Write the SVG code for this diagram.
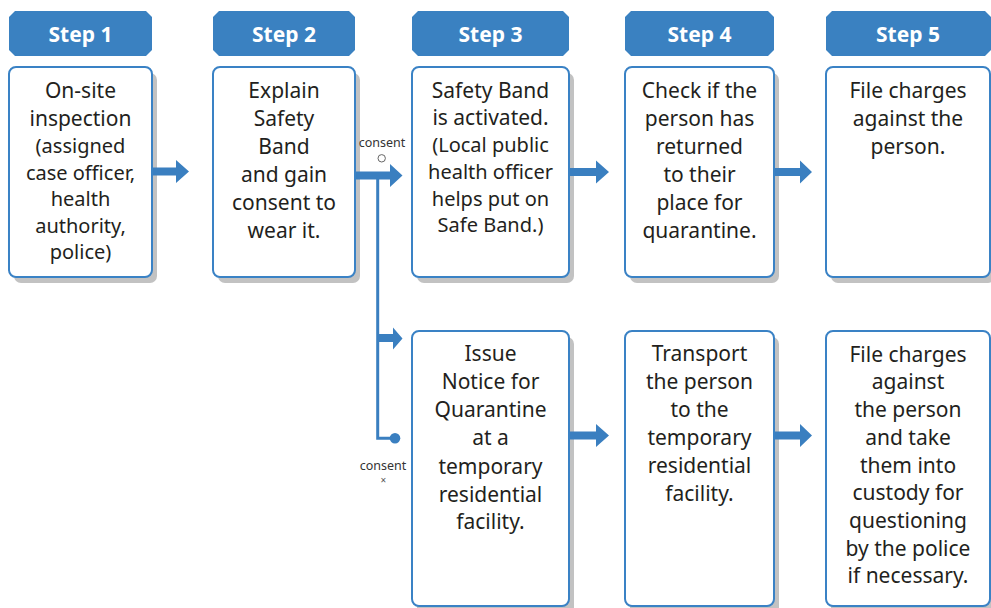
<svg xmlns="http://www.w3.org/2000/svg" width="991" height="608" viewBox="0 0 991 608">
<style>
.hdr{fill:#3a81c1}
.hdrt{font-family:"Noto Sans","Open Sans",sans-serif;font-weight:bold;font-size:21px;fill:#fff;text-anchor:middle}
.box{fill:#fff;stroke:#3a82c5;stroke-width:2}
.sh{fill:#c2c2c2}
.t{font-family:"Noto Sans","Open Sans",sans-serif;font-size:21px;fill:#231f20;text-anchor:middle}
.s{font-size:20px}
.arr{fill:#3a7fc0}
.lbl{font-family:"Noto Sans","Open Sans",sans-serif;font-size:12.5px;fill:#333;text-anchor:middle}
</style>
<rect width="991" height="608" fill="#fff"/>
<g id="headers">
<g id="h1"><path class="hdr" d="M15,11H146L152,17V50L146,56H15L9,50V17Z"/><text class="hdrt" x="80.5" y="42">Step 1</text></g>
<g id="h2"><path class="hdr" d="M219,11H349L355,17V50L349,56H219L213,50V17Z"/><text class="hdrt" x="284" y="42">Step 2</text></g>
<g id="h3"><path class="hdr" d="M418,11H563L569,17V50L563,56H418L412,50V17Z"/><text class="hdrt" x="490.5" y="42">Step 3</text></g>
<g id="h4"><path class="hdr" d="M631,11H768L774,17V50L768,56H631L625,50V17Z"/><text class="hdrt" x="699.5" y="42">Step 4</text></g>
<g id="h5"><path class="hdr" d="M832,11H985L991,17V50L985,56H832L826,50V17Z"/><text class="hdrt" x="908" y="42">Step 5</text></g>
</g>
<g id="shadows">
<rect class="sh" x="14" y="73" width="143" height="210" rx="7"/>
<rect class="sh" x="218" y="73" width="142" height="210" rx="7"/>
<rect class="sh" x="417" y="73" width="157" height="210" rx="7"/>
<rect class="sh" x="630" y="73" width="149" height="210" rx="7"/>
<rect class="sh" x="831" y="73" width="164" height="210" rx="7"/>
<rect class="sh" x="417" y="337" width="157" height="280" rx="7"/>
<rect class="sh" x="630" y="337" width="149" height="280" rx="7"/>
<rect class="sh" x="831" y="337" width="164" height="280" rx="7"/>
</g>
<g id="connectors">
<path class="arr" d="M152,167.5H176V160L189,171.5L176,183V175.5H152Z"/>
<path class="arr" d="M355,171.5H390V164L402.5,175.5L390,187V179.5H355Z"/>
<path class="arr" d="M569,168H596V160.5L609,172L596,183.5V176H569Z"/>
<path class="arr" d="M775,168H800V160.5L812,172L800,183.5V176H775Z"/>
<path class="arr" d="M569,431.5H596V424L609,435.5L596,447V439.5H569Z"/>
<path class="arr" d="M775,431.5H800V424L812,435.5L800,447V439.5H775Z"/>
<path d="M377.7,175.5V438.3H395" fill="none" stroke="#3a7fc0" stroke-width="3"/>
<path class="arr" d="M377,334H393V327.5L402.5,338.5L393,349.5V342H377Z"/>
<circle cx="395" cy="438.3" r="5.3" fill="#3a7fc0"/>
<text class="lbl" x="382" y="146.5">consent</text>
<circle cx="381.7" cy="158.3" r="3.7" fill="#fff" stroke="#666" stroke-width="1"/>
<text class="lbl" x="383" y="470">consent</text>
<text class="lbl" x="383.3" y="484" style="font-size:10px;fill:#555">×</text>
</g>
<g id="n1"><rect class="box" x="9" y="67" width="143" height="210" rx="7"/>
<text class="t" x="80.5" y="98">On-site</text><text class="t" x="80.5" y="126">inspection</text>
<text class="t s" x="80.5" y="153">(assigned</text><text class="t s" x="80.5" y="179.5">case officer,</text><text class="t s" x="80.5" y="206">health</text><text class="t s" x="80.5" y="232.5">authority,</text><text class="t s" x="80.5" y="259">police)</text></g>
<g id="n2"><rect class="box" x="213" y="67" width="142" height="210" rx="7"/>
<text class="t" x="284" y="98">Explain</text><text class="t" x="284" y="126">Safety</text><text class="t" x="284" y="154">Band</text><text class="t" x="284" y="182">and gain</text><text class="t" x="284" y="210">consent to</text><text class="t" x="284" y="238">wear it.</text></g>
<g id="n3"><rect class="box" x="412" y="67" width="157" height="210" rx="7"/>
<text class="t" x="490.5" y="97.5">Safety Band</text><text class="t" x="490.5" y="125">is activated.</text>
<text class="t s" x="490.5" y="152">(Local public</text><text class="t s" x="490.5" y="179">health officer</text><text class="t s" x="490.5" y="205.5">helps put on</text><text class="t s" x="490.5" y="232">Safe Band.)</text></g>
<g id="n4"><rect class="box" x="625" y="67" width="149" height="210" rx="7"/>
<text class="t" x="699.5" y="98">Check if the</text><text class="t" x="699.5" y="126">person has</text><text class="t" x="699.5" y="154">returned</text><text class="t" x="699.5" y="182">to their</text><text class="t" x="699.5" y="210">place for</text><text class="t" x="699.5" y="238">quarantine.</text></g>
<g id="n5"><rect class="box" x="826" y="67" width="164" height="210" rx="7"/>
<text class="t" x="908" y="98">File charges</text><text class="t" x="908" y="126">against the</text><text class="t" x="908" y="154">person.</text></g>
<g id="n6"><rect class="box" x="412" y="331" width="157" height="275" rx="7"/>
<text class="t" x="490.5" y="361">Issue</text><text class="t" x="490.5" y="389">Notice for</text><text class="t" x="490.5" y="417">Quarantine</text><text class="t" x="490.5" y="445">at a</text><text class="t" x="490.5" y="474">temporary</text><text class="t" x="490.5" y="502">residential</text><text class="t" x="490.5" y="529">facility.</text></g>
<g id="n7"><rect class="box" x="625" y="331" width="149" height="275" rx="7"/>
<text class="t" x="699.5" y="361">Transport</text><text class="t" x="699.5" y="389">the person</text><text class="t" x="699.5" y="417">to the</text><text class="t" x="699.5" y="445">temporary</text><text class="t" x="699.5" y="473">residential</text><text class="t" x="699.5" y="501">facility.</text></g>
<g id="n8"><rect class="box" x="826" y="331" width="164" height="275" rx="7"/>
<text class="t" x="908" y="361.5">File charges</text><text class="t" x="908" y="389">against</text><text class="t" x="908" y="417">the person</text><text class="t" x="908" y="445">and take</text><text class="t" x="908" y="473">them into</text><text class="t" x="908" y="500">custody for</text><text class="t" x="908" y="528">questioning</text><text class="t" x="908" y="556">by the police</text><text class="t" x="908" y="583">if necessary.</text></g>
</svg>
